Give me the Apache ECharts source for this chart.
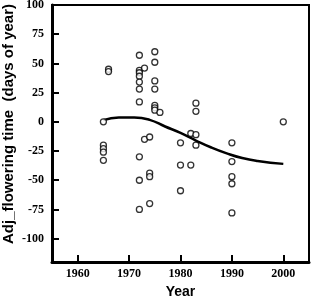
<!DOCTYPE html>
<html>
<head>
<meta charset="utf-8">
<script src="https://cdn.jsdelivr.net/npm/echarts@6/dist/echarts.min.js"></script>
<style>
html,body{margin:0;padding:0;background:#fff;}
#chart{width:312px;height:296px;}
</style>
</head>
<body>
<div id="chart"></div>
<script>
// Observed points: year, adjusted flowering time
var pointYears = [1965,1965,1965,1965,1965,
  1966,1966,
  1972,1972,1972,1972,1972,1972,1972,1972,1972,1972,
  1973,1973,
  1974,1974,1974,1974,
  1975,1975,1975,1975,1975,1975,1975,
  1976,
  1980,1980,1980,
  1982,1982,
  1983,1983,1983,1983,
  1990,1990,1990,1990,1990,
  2000];
var pointValues = [0,-20,-23,-26,-33,
  45,43,
  57,44,42,39,34,28,17,-30,-50,-75,
  46,-15,
  -13,-44,-47,-70,
  60,51,35,28,14,12,10,
  8,
  -18,-37,-59,
  -10,-37,
  16,9,-11,-20,
  -18,-34,-47,-53,-78,
  0];
// Fitted smooth curve
var curveYears  = [1965,1968,1971,1974,1977,1980,1983,1986,1989,1992,1995,2000];
var curveValues = [1.5, 3.7, 3.7, 1.7, -4,  -9.5,-16, -22, -27, -31, -33.5,-36];
// Tick labels
var xTicks = [1960,1970,1980,1990,2000];
var yTicks = [-100,-75,-50,-25,0,25,50,75,100];
var xTitle = 'Year';
var yTitle = 'Adj_flowering time  (days of year)';

var scatterData = pointYears.map(function(y,i){return [y, pointValues[i]];});
var curveData = curveYears.map(function(y,i){return [y, curveValues[i]];});

var chart = echarts.init(document.getElementById('chart'), null, {renderer:'canvas'});
var tickFont = {fontFamily:'Liberation Serif', fontWeight:'bold', fontSize:12, color:'#000'};
chart.setOption({
  animation:false,
  backgroundColor:'#fff',
  grid:{left:52, right:3, top:5, bottom:34, containLabel:false, outerBoundsMode:'none',
        show:true, borderColor:'#000', borderWidth:2, backgroundColor:'transparent'},
  graphic:[{
    type:'text', x:9, y:124, rotation:Math.PI/2,
    style:{text:yTitle, fontFamily:'Liberation Sans', fontWeight:'bold', fontSize:15,
           fill:'#000', align:'center', verticalAlign:'middle'}
  }],
  xAxis:{
    type:'value', min:1955, max:2005,
    name:xTitle, nameLocation:'middle', nameGap:18,
    nameTextStyle:{fontFamily:'Liberation Sans', fontWeight:'bold', fontSize:14, color:'#000'},
    axisLine:{show:true, onZero:false, lineStyle:{color:'#000', width:3}},
    axisTick:{show:true, inside:true, length:7, customValues:xTicks, lineStyle:{color:'#000', width:2}},
    axisLabel:Object.assign({customValues:xTicks, margin:6, formatter:function(v){return String(v);}}, tickFont),
    splitLine:{show:false}
  },
  yAxis:{
    type:'value', min:-120, max:100,
    axisLine:{show:true, onZero:false, lineStyle:{color:'#000', width:3}},
    axisTick:{show:true, inside:true, length:7, customValues:yTicks, lineStyle:{color:'#000', width:2}},
    axisLabel:Object.assign({customValues:yTicks, margin:8, formatter:function(v){return String(v);}}, tickFont),
    splitLine:{show:false}
  },
  series:[
    {type:'line', data:curveData, smooth:true, showSymbol:false, symbol:'none',
     lineStyle:{color:'#000', width:2.5}, z:3},
    {type:'scatter', data:scatterData, symbol:'circle', symbolSize:6,
     itemStyle:{color:'#fff', borderColor:'#000', borderWidth:1.3}, z:4}
  ]
});
</script>
</body>
</html>
